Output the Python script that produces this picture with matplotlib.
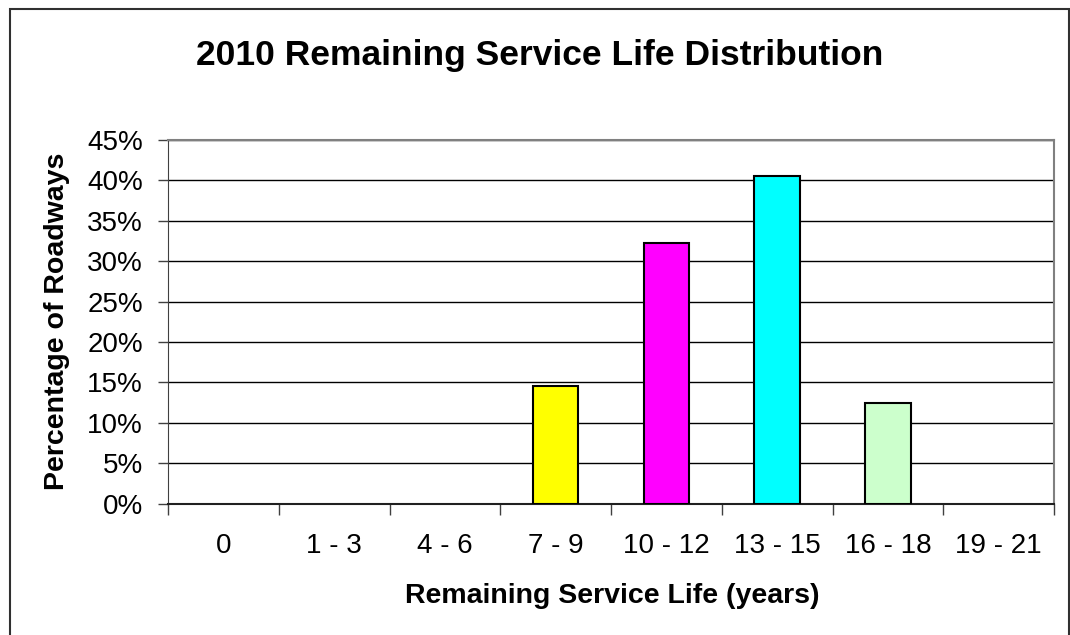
import matplotlib.pyplot as plt
from matplotlib.patches import Rectangle
from matplotlib.ticker import FuncFormatter, MultipleLocator

# remaining service life bins and share of roadways (%)
categories = ["0", "1 - 3", "4 - 6", "7 - 9", "10 - 12", "13 - 15", "16 - 18", "19 - 21"]
percent = [0, 0, 0, 14.6, 32.2, 40.6, 12.4, 0]
bar_colors = ["#FFFF00", "#FFFF00", "#FFFF00", "#FFFF00", "#FF00FF", "#00FFFF", "#CCFFCC", "#CCFFCC"]

plt.rcParams["font.family"] = ["Liberation Sans", "DejaVu Sans"]

fig = plt.figure(figsize=(10.70, 6.35), dpi=100)
ax = fig.add_axes([168 / 1070, 1 - 503.5 / 635, (1054 - 168) / 1070, (503.5 - 140) / 635])

x = list(range(len(categories)))
edge_w = [1.5 if v > 0 else 0 for v in percent]
ax.bar(x, percent, width=0.41, color=bar_colors, edgecolor="black", linewidth=edge_w, zorder=3)

ax.set_xlim(-0.5, len(categories) - 0.5)
ax.set_ylim(0, 45)
ax.yaxis.set_major_locator(MultipleLocator(5))
ax.yaxis.set_major_formatter(FuncFormatter(lambda v, p: f"{v:.0f}%"))
ax.grid(axis="y", color="black", linewidth=1, zorder=0)

# ticks on the category boundaries, labels centred
ax.set_xticks([i - 0.5 for i in range(len(categories) + 1)])
ax.set_xticklabels([])
ax.set_xticks(x, minor=True)
ax.set_xticklabels(categories, minor=True)
ax.tick_params(axis="x", which="major", length=8, width=1, color="#404040", direction="out")
ax.tick_params(axis="x", which="minor", length=0, labelsize=20, pad=21)
ax.tick_params(axis="y", length=7, width=1, color="#404040", labelsize=20, pad=11)

for side in ["top", "right"]:
    ax.spines[side].set_color("#808080")
    ax.spines[side].set_linewidth(1.5)
ax.spines["left"].set_color("#404040")
ax.spines["bottom"].set_color("#202020")
ax.spines["bottom"].set_linewidth(1.5)

ax.set_ylabel("Percentage of Roadways", fontsize=20.5, fontweight="bold", va="center")
ax.yaxis.set_label_coords((57 - 168) / 886, 0.5)
ax.set_xlabel("Remaining Service Life (years)", fontsize=20.5, fontweight="bold", va="center")
ax.xaxis.set_label_coords((612 - 168) / 886, (503.5 - 596) / 363.5)
fig.text(540 / 1070, 1 - 55 / 635, "2010 Remaining Service Life Distribution",
         ha="center", va="center", fontsize=25.5, fontweight="bold")

# chart border
fig.patches.append(Rectangle((10 / 1070, -0.05), 1059 / 1070, 1.05 - 9 / 635, transform=fig.transFigure,
                             fill=False, edgecolor="#303030", linewidth=1.5))

fig.savefig("out.png", dpi=100, facecolor="white")
